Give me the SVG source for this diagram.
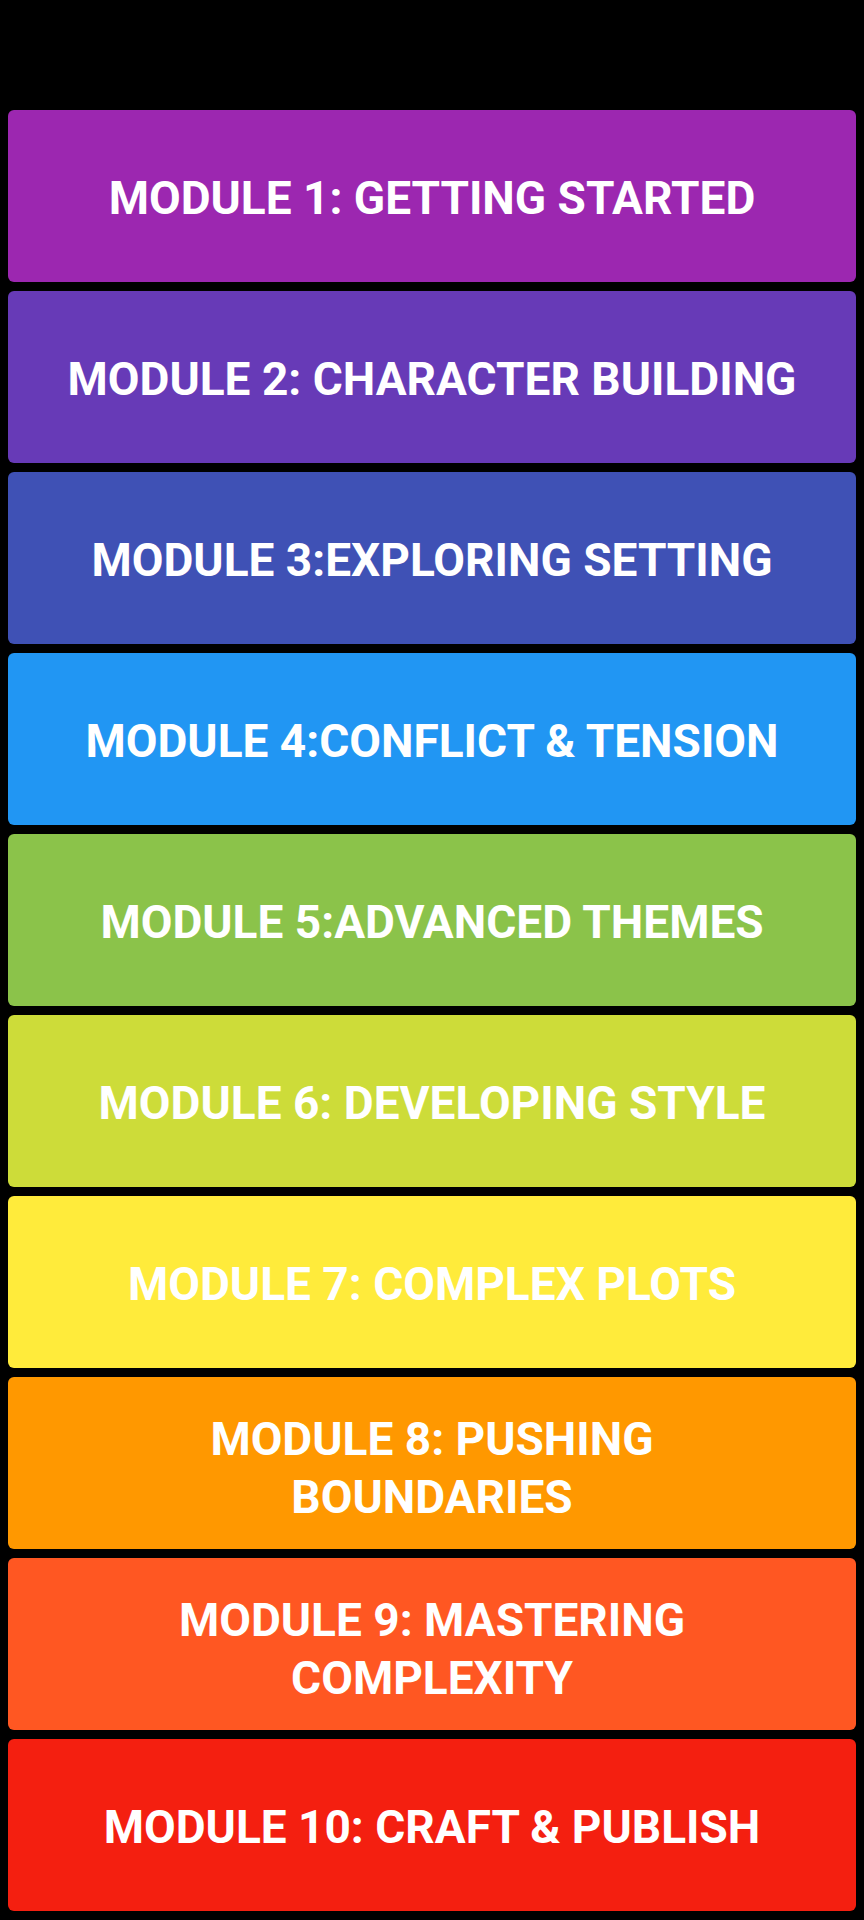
<svg xmlns="http://www.w3.org/2000/svg" width="864" height="1920" viewBox="0 0 864 1920">
<style>
rect.b{rx:6px;ry:6px}
text{font-family:Roboto,"Liberation Sans",sans-serif;font-weight:bold;font-size:46px;fill:#fff;text-anchor:middle}
</style>
<rect width="864" height="1920" fill="#000"/>
<g id="m1"><rect class="b" x="8" y="110" width="848" height="172" fill="#9c27b0"/><text x="432" y="214">MODULE 1: GETTING STARTED</text></g>
<g id="m2"><rect class="b" x="8" y="291" width="848" height="172" fill="#673ab7"/><text x="432" y="395">MODULE 2: CHARACTER BUILDING</text></g>
<g id="m3"><rect class="b" x="8" y="472" width="848" height="172" fill="#3f51b5"/><text x="432" y="576">MODULE 3:EXPLORING SETTING</text></g>
<g id="m4"><rect class="b" x="8" y="653" width="848" height="172" fill="#2196f3"/><text x="432" y="757">MODULE 4:CONFLICT &amp; TENSION</text></g>
<g id="m5"><rect class="b" x="8" y="834" width="848" height="172" fill="#8bc34a"/><text x="432" y="938">MODULE 5:ADVANCED THEMES</text></g>
<g id="m6"><rect class="b" x="8" y="1015" width="848" height="172" fill="#cddc39"/><text x="432" y="1119">MODULE 6: DEVELOPING STYLE</text></g>
<g id="m7"><rect class="b" x="8" y="1196" width="848" height="172" fill="#ffeb3b"/><text x="432" y="1300">MODULE 7: COMPLEX PLOTS</text></g>
<g id="m8"><rect class="b" x="8" y="1377" width="848" height="172" fill="#ff9800"/><text x="432" y="1455">MODULE 8: PUSHING</text><text x="432" y="1513">BOUNDARIES</text></g>
<g id="m9"><rect class="b" x="8" y="1558" width="848" height="172" fill="#ff5722"/><text x="432" y="1636">MODULE 9: MASTERING</text><text x="432" y="1694">COMPLEXITY</text></g>
<g id="m10"><rect class="b" x="8" y="1739" width="848" height="172" fill="#f41f10"/><text x="432" y="1843">MODULE 10: CRAFT &amp; PUBLISH</text></g>
<g id="connectors"/>
</svg>
